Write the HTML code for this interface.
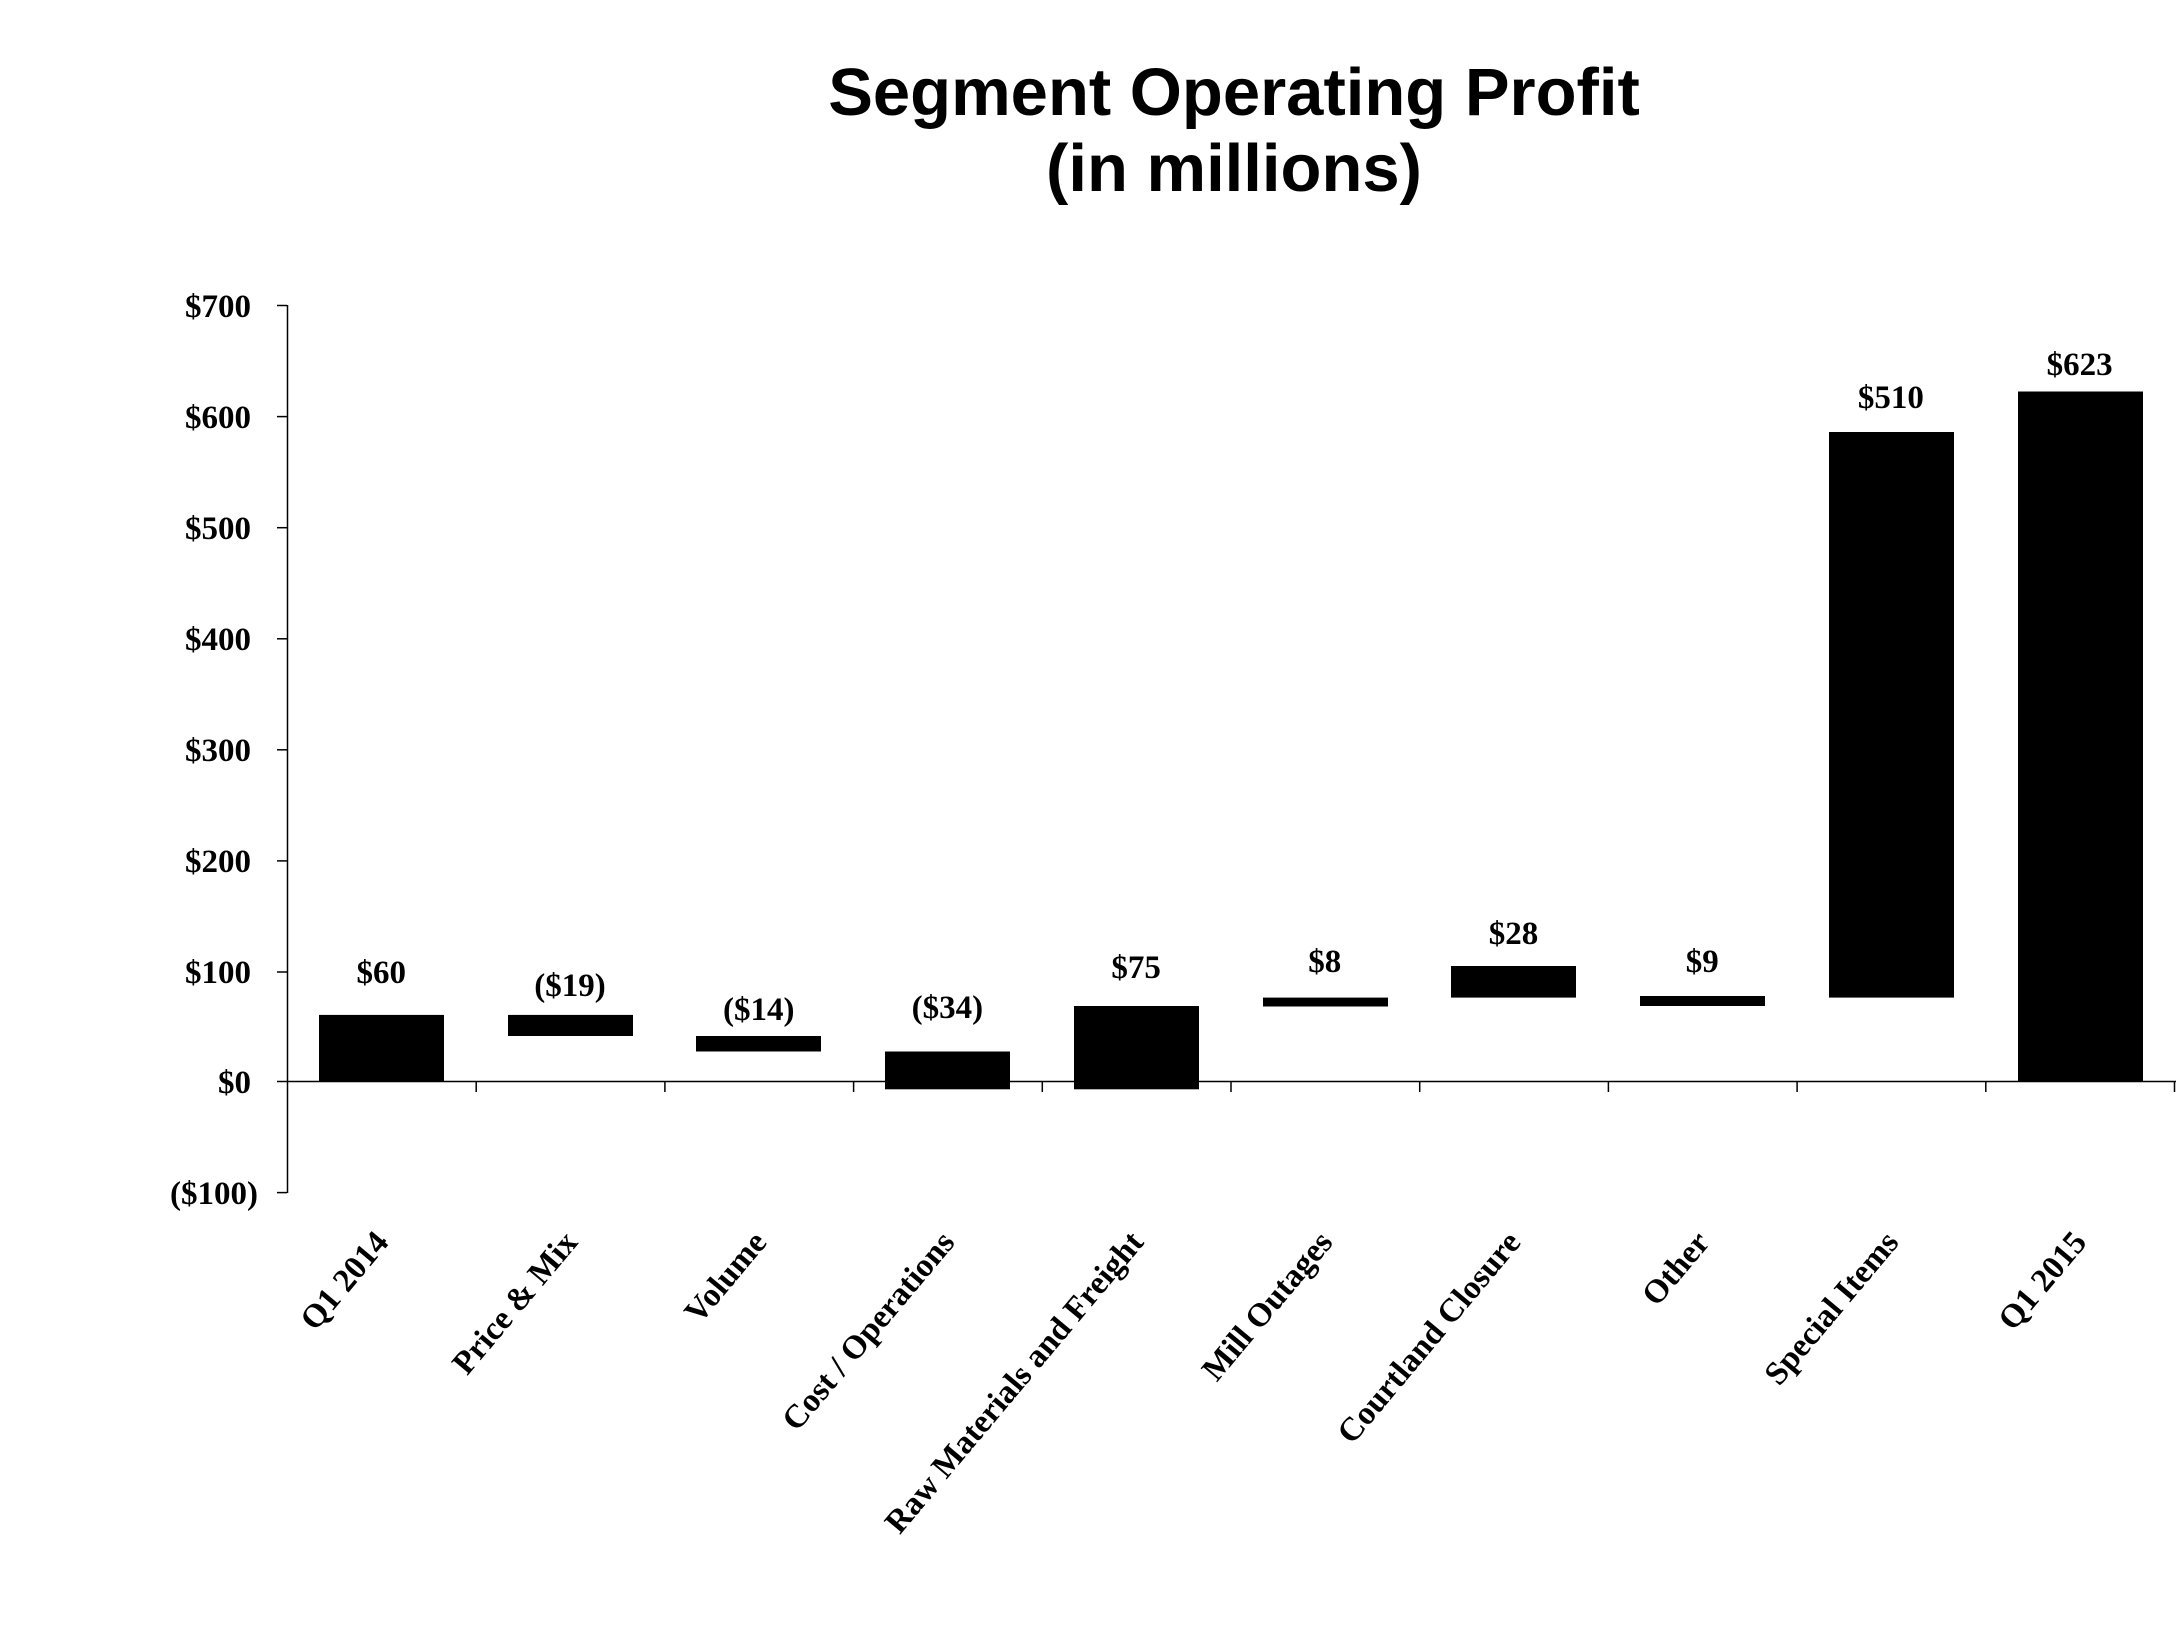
<!DOCTYPE html>
<html><head><meta charset="utf-8"><style>
html,body{margin:0;padding:0;background:#fff;}
svg{display:block;}
.t{font-family:"Liberation Sans",Arial,sans-serif;font-weight:bold;font-size:67px;}
.s{font-family:"Liberation Serif","Times New Roman",serif;font-weight:bold;font-size:33px;}
</style></head><body>
<svg width="2177" height="1639" viewBox="0 0 2177 1639" xmlns="http://www.w3.org/2000/svg">
<rect width="2177" height="1639" fill="#fff"/>
<text class="t" x="1234" y="115" text-anchor="middle">Segment Operating Profit</text>
<text class="t" x="1234" y="191" text-anchor="middle">(in millions)</text>
<g stroke="#000" stroke-width="1.5" fill="none">
<line x1="287.5" y1="305" x2="287.5" y2="1193"/>
<line x1="287" y1="1081.5" x2="2176" y2="1081.5"/>
<line x1="277" y1="305.5" x2="287" y2="305.5"/>
<line x1="277" y1="416.6" x2="287" y2="416.6"/>
<line x1="277" y1="527.7" x2="287" y2="527.7"/>
<line x1="277" y1="638.8" x2="287" y2="638.8"/>
<line x1="277" y1="749.8" x2="287" y2="749.8"/>
<line x1="277" y1="860.9" x2="287" y2="860.9"/>
<line x1="277" y1="972" x2="287" y2="972"/>
<line x1="277" y1="1081.5" x2="287" y2="1081.5"/>
<line x1="277" y1="1192.6" x2="287" y2="1192.6"/>
<line x1="476.2" y1="1081" x2="476.2" y2="1092"/>
<line x1="664.9" y1="1081" x2="664.9" y2="1092"/>
<line x1="853.6" y1="1081" x2="853.6" y2="1092"/>
<line x1="1042.3" y1="1081" x2="1042.3" y2="1092"/>
<line x1="1231" y1="1081" x2="1231" y2="1092"/>
<line x1="1419.7" y1="1081" x2="1419.7" y2="1092"/>
<line x1="1608.4" y1="1081" x2="1608.4" y2="1092"/>
<line x1="1797.1" y1="1081" x2="1797.1" y2="1092"/>
<line x1="1985.8" y1="1081" x2="1985.8" y2="1092"/>
<line x1="2174.5" y1="1081" x2="2174.5" y2="1092"/>
</g>
<g class="s" text-anchor="end">
<text x="251" y="317">$700</text>
<text x="251" y="428">$600</text>
<text x="251" y="539">$500</text>
<text x="251" y="650">$400</text>
<text x="251" y="761">$300</text>
<text x="251" y="872">$200</text>
<text x="251" y="983">$100</text>
<text x="251" y="1093">$0</text>
<text x="258" y="1204">($100)</text>
</g>
<g fill="#000">
<rect x="319" y="1014.9" width="125" height="66.6"/>
<rect x="508" y="1014.9" width="125" height="21.1"/>
<rect x="696" y="1036" width="125" height="15.5"/>
<rect x="885" y="1051.5" width="125" height="37.8"/>
<rect x="1074" y="1006" width="125" height="83.3"/>
<rect x="1263" y="997.6" width="125" height="8.9"/>
<rect x="1451" y="966" width="125" height="31.6"/>
<rect x="1640" y="996" width="125" height="10"/>
<rect x="1829" y="432" width="125" height="565.6"/>
<rect x="2018" y="391.5" width="125" height="690"/>
</g>
<g class="s" text-anchor="middle">
<text x="381.3" y="983">$60</text>
<text x="570" y="996">($19)</text>
<text x="758.7" y="1020">($14)</text>
<text x="947.4" y="1018">($34)</text>
<text x="1136.1" y="978">$75</text>
<text x="1324.8" y="972">$8</text>
<text x="1513.5" y="944">$28</text>
<text x="1702.2" y="972">$9</text>
<text x="1890.9" y="408">$510</text>
<text x="2079.6" y="375">$623</text>
</g>
<g class="s" text-anchor="end">
<text transform="translate(390,1243) rotate(-50)">Q1 2014</text>
<text transform="translate(579,1243) rotate(-50)">Price &amp; Mix</text>
<text transform="translate(768,1243) rotate(-50)">Volume</text>
<text transform="translate(956,1243) rotate(-50)">Cost / Operations</text>
<text transform="translate(1145,1243) rotate(-50)">Raw Materials and Freight</text>
<text transform="translate(1334,1243) rotate(-50)">Mill Outages</text>
<text transform="translate(1522,1243) rotate(-50)">Courtland Closure</text>
<text transform="translate(1711,1243) rotate(-50)">Other</text>
<text transform="translate(1900,1243) rotate(-50)">Special Items</text>
<text transform="translate(2088,1243) rotate(-50)">Q1 2015</text>
</g>
</svg>
</body></html>
